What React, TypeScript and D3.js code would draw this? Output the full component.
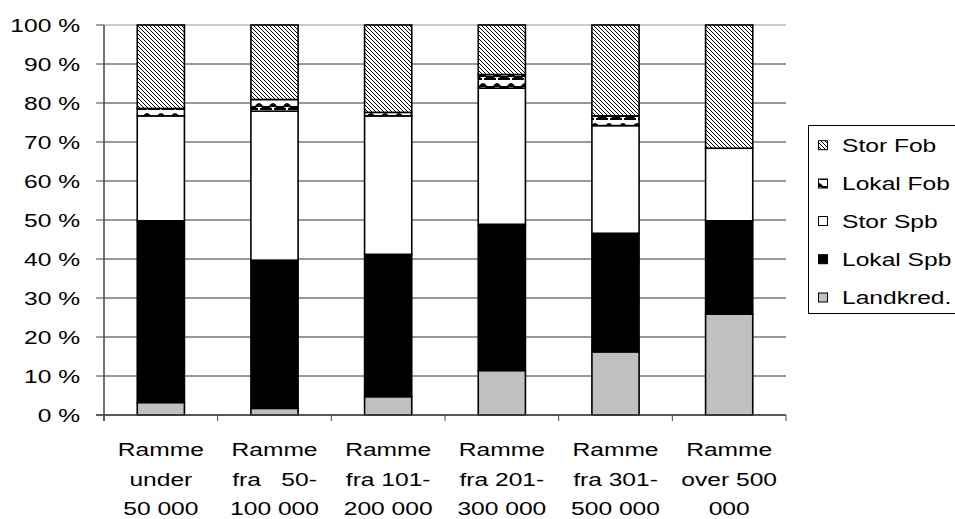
import React from "react";
import * as d3 from "d3";

const categories = ["c1", "c2", "c3", "c4", "c5", "c6"];
const categoryLabels = [
  ["Ramme", "under", "50 000"],
  ["Ramme", "fra   50-", "100 000"],
  ["Ramme", "fra 101-", "200 000"],
  ["Ramme", "fra 201-", "300 000"],
  ["Ramme", "fra 301-", "500 000"],
  ["Ramme", "over 500", "000"],
];
const landkred = [3.2, 1.7, 4.7, 11.4, 16.2, 25.9];
const lokalSpb = [46.6, 38.0, 36.5, 37.5, 30.4, 23.9];
const storSpb = [26.9, 38.2, 35.5, 34.9, 27.6, 18.6];
const lokalFob = [1.9, 3.0, 0.9, 3.5, 2.5, 0];
const storFob = [21.4, 19.1, 22.4, 12.7, 23.3, 31.6];
const seriesKeys = ["Landkred.", "Lokal Spb", "Stor Spb", "Lokal Fob", "Stor Fob"];
const yTicks = [0, 10, 20, 30, 40, 50, 60, 70, 80, 90, 100];

const fills: Record<string, string> = {
  "Landkred.": "#c0c0c0",
  "Lokal Spb": "#000000",
  "Stor Spb": "#ffffff",
  "Lokal Fob": "url(#lokalFob)",
  "Stor Fob": "url(#storFob)",
};

const FONT = "'Liberation Sans', Arial, sans-serif";
const FS = 18.5;
const SX = 1.33;

function SText({ x, y, anchor, children }: { x: number; y: number; anchor: string; children: React.ReactNode }) {
  return (
    <g transform={`translate(${x},${y}) scale(${SX},1)`}>
      <text x={0} y={0} textAnchor={anchor} fontFamily={FONT} fontSize={FS} fill="#000" style={{ whiteSpace: "pre" }}>
        {children}
      </text>
    </g>
  );
}

export default function App() {
  const W = 955, H = 519;
  const left = 104, right = 786, top = 25, bottom = 415;
  const x = d3.scaleBand<string>().domain(categories).range([left, right]).padding(0);
  const y = d3.scaleLinear().domain([0, 100]).range([bottom, top]);
  const barW = x.bandwidth() * 0.415;

  const rows = categories.map((c, i) => ({
    cat: c,
    "Landkred.": landkred[i],
    "Lokal Spb": lokalSpb[i],
    "Stor Spb": storSpb[i],
    "Lokal Fob": lokalFob[i],
    "Stor Fob": storFob[i],
  }));
  const stacked = d3.stack<any>().keys(seriesKeys)(rows);

  const legendItems = ["Stor Fob", "Lokal Fob", "Stor Spb", "Lokal Spb", "Landkred."];
  const legendBase = [151.7, 190, 227.5, 265.7, 304];

  return (
    <svg width={W} height={H} style={{ position: "absolute", left: 0, top: 0, background: "#fff" }}>
      <defs>
        <pattern id="storFob" patternUnits="userSpaceOnUse" width={4} height={4}>
          <rect width={4} height={4} fill="#fff" />
          <path d="M0,0 L4,4 M-1,3 L1,5 M3,-1 L5,1" stroke="#000" strokeWidth={1} />
        </pattern>
        <pattern id="lokalFob" patternUnits="userSpaceOnUse" width={14} height={10}>
          <rect width={14} height={10} fill="#fff" />
          <path d="M3,6 Q7,0 11,6 Z" fill="#000" />
          <rect x={0} y={6} width={14} height={4} fill="#000" />
          <rect x={6} y={7} width={2} height={3} fill="#fff" />
          <rect x={4.5} y={7} width={5} height={1} fill="#fff" />
        </pattern>
      </defs>

      {yTicks.map((t) => (
        <line key={"g" + t} x1={left} x2={right} y1={y(t)} y2={y(t)} stroke={t === 100 ? "#999" : "#333"} strokeWidth={1} />
      ))}

      {stacked.map((s) =>
        s.map((d, i) => {
          const h = y(d[0]) - y(d[1]);
          if (h <= 0) return null;
          const cx = (x(categories[i]) as number) + x.bandwidth() / 2;
          return (
            <rect
              key={s.key + i}
              x={cx - barW / 2}
              y={y(d[1])}
              width={barW}
              height={h}
              fill={fills[s.key]}
              stroke="#000"
              strokeWidth={1.6}
            />
          );
        })
      )}

      <line x1={left} x2={left} y1={top} y2={bottom + 6} stroke="#444" strokeWidth={1.5} />
      <line x1={left - 8} x2={right} y1={bottom} y2={bottom} stroke="#444" strokeWidth={1.5} />
      {yTicks.map((t) => (
        <line key={"yt" + t} x1={left - 8} x2={left} y1={y(t)} y2={y(t)} stroke="#444" strokeWidth={1} />
      ))}
      {categories.map((c) => (
        <line key={"xt" + c} x1={x(c) as number} x2={x(c) as number} y1={bottom} y2={bottom + 6} stroke="#444" strokeWidth={1} />
      ))}
      <line x1={right} x2={right} y1={bottom} y2={bottom + 6} stroke="#444" strokeWidth={1} />

      {yTicks.map((t) => (
        <SText key={"yl" + t} x={80} y={y(t) + 6.5} anchor="end">{`${t} %`}</SText>
      ))}

      {categories.map((c, i) =>
        categoryLabels[i].map((line, j) => (
          <SText key={c + j} x={(x(c) as number) + x.bandwidth() / 2} y={456 + j * 29.5} anchor="middle">
            {line}
          </SText>
        ))
      )}

      <rect x={808.5} y={125.5} width={160} height={188} fill="#fff" stroke="#000" strokeWidth={1} />
      {legendItems.map((k, i) => (
        <g key={"lg" + k}>
          <rect x={818.5} y={legendBase[i] - 11} width={9} height={9} fill={fills[k]} stroke="#000" strokeWidth={1} />
          <SText x={842} y={legendBase[i]} anchor="start">{k}</SText>
        </g>
      ))}
    </svg>
  );
}
